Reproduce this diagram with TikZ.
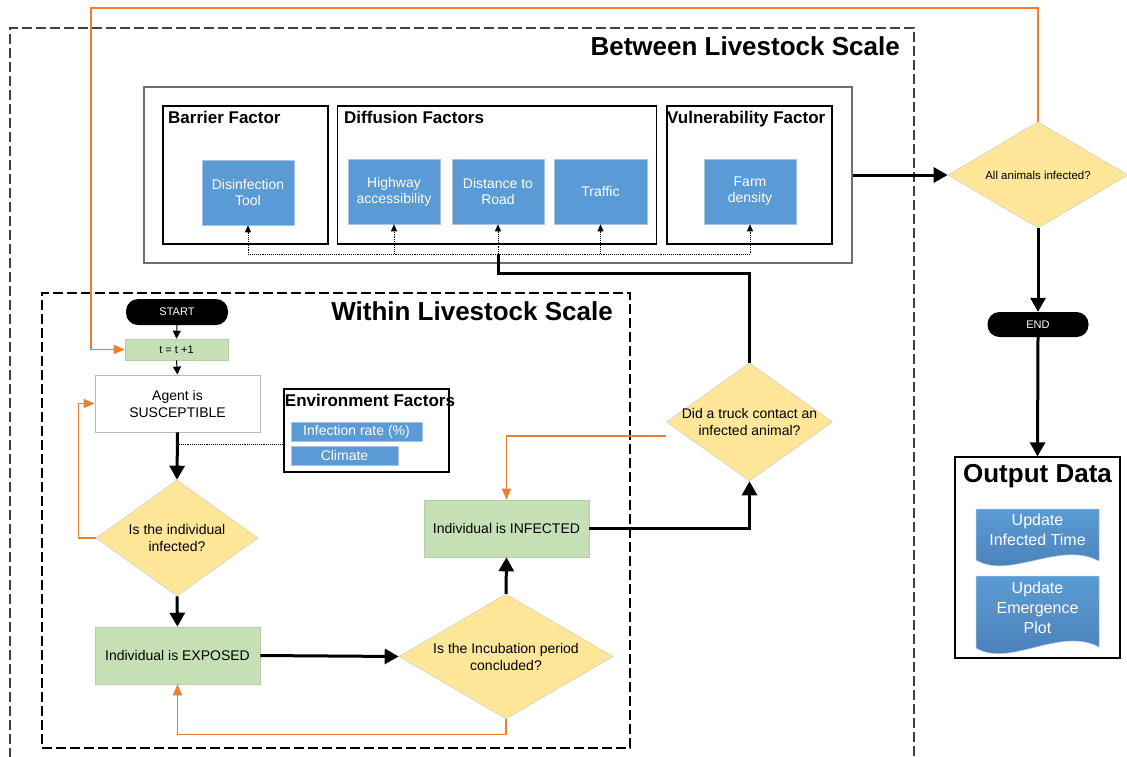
\documentclass[tikz,border=0pt]{standalone}
\usepackage{fontspec}
\setmainfont{Liberation Sans}
\usetikzlibrary{arrows.meta,shapes.geometric,backgrounds,calc}
\definecolor{cblue}{HTML}{5B9BD5}
\definecolor{cblueb}{HTML}{A9C4E0}
\definecolor{cbluedk}{HTML}{4A7DB5}
\definecolor{cgreen}{HTML}{C5E0B4}
\definecolor{cgreenb}{HTML}{B7CCA9}
\definecolor{cyellow}{HTML}{FFE699}
\definecolor{cyellowb}{HTML}{D6D0BC}
\definecolor{corange}{HTML}{ED7D31}
\definecolor{cgrayline}{HTML}{404040}
\definecolor{cfacline}{HTML}{6F6F6F}
\begin{document}
\begin{tikzpicture}[x=1pt,y=-1pt,
  bluebox/.style={fill=cblue, draw=cblueb, line width=0.6pt, text=white, font=\fontsize{14}{16}\selectfont, align=center, inner sep=0pt},
  greenbox/.style={fill=cgreen, draw=cgreenb, line width=0.6pt, font=\fontsize{14}{17}\selectfont, align=center, inner sep=0pt},
  decision/.style={diamond, fill=cyellow, draw=cyellowb, line width=0.6pt, inner sep=-12pt, font=\fontsize{14}{17}\selectfont, align=center},
  terminal/.style={fill=black, text=white, rounded corners=12pt, font=\fontsize{11}{13}\selectfont, inner sep=0pt},
  bigtitle/.style={font=\bfseries\fontsize{26}{30}\selectfont, inner sep=0pt},
  subtitle/.style={font=\bfseries\fontsize{17}{20}\selectfont, inner sep=0pt},
  groupbox/.style={draw=black, line width=1.2pt, inner sep=0pt},
  thickarrow/.style={line width=3pt, -{Triangle[width=15pt,length=14pt]}},
  thickline/.style={line width=3pt},
  thinarrow/.style={line width=1pt, -{Triangle[width=8pt,length=8pt]}},
  orangearrow/.style={draw=corange, line width=1.3pt, -{Triangle[width=9pt,length=11pt]}},
  dotarrow/.style={densely dotted, line width=0.9pt, -{Triangle[width=6pt,length=7pt]}},
  dotline/.style={densely dotted, line width=0.9pt},
  doctext/.style={text=white, font=\fontsize{16}{20}\selectfont, align=center, inner sep=0pt},
]
\useasboundingbox (0,0) rectangle (1127,756);

% containers
\node[draw=cgrayline, line width=1.2pt, dash pattern=on 10pt off 4pt, minimum width=904pt, minimum height=762pt, inner sep=0pt] (between) at (462,409) {};
\node[bigtitle, anchor=base east] (betweent) at (900,55) {Between Livestock Scale};

\node[draw=cfacline, line width=1.4pt, fill=white, minimum width=708pt, minimum height=176pt, inner sep=0pt] (fac) at (498,175) {};
\node[groupbox, minimum width=165pt, minimum height=138pt] (bar) at (245.5,175) {};
\node[groupbox, minimum width=319pt, minimum height=138pt] (dif) at (497,175) {};
\node[groupbox, minimum width=165pt, minimum height=138pt] (vul) at (749.5,175) {};
\node[subtitle, anchor=base west] (bart) at (168,123) {Barrier Factor};
\node[subtitle, anchor=base west] (dift) at (344,123) {Diffusion Factors};
\node[subtitle, anchor=base west] (vult) at (667,123) {Vulnerability Factor};

\node[bluebox, minimum width=92pt, minimum height=65pt] (dis) at (248,192.5) {Disinfection\\Tool};
\node[bluebox, minimum width=92pt, minimum height=65pt] (hwy) at (394,191.5) {Highway\\accessibility};
\node[bluebox, minimum width=92pt, minimum height=65pt] (dist) at (498,191.5) {Distance to\\Road};
\node[bluebox, minimum width=93pt, minimum height=65pt] (trf) at (600.5,191.5) {Traffic};
\node[bluebox, minimum width=92pt, minimum height=65pt] (farm) at (750,191.5) {Farm\\density};

\node[draw=black, line width=1.2pt, dash pattern=on 10pt off 4pt, minimum width=588pt, minimum height=455pt, inner sep=0pt] (within) at (336,520.5) {};
\node[bigtitle, anchor=base east] (withint) at (613,320) {Within Livestock Scale};

% within flow
\node[terminal, minimum width=102pt, minimum height=26pt] (start) at (177,312) {START};
\node[greenbox, minimum width=103pt, minimum height=21pt, font=\fontsize{11}{13}\selectfont] (tt) at (176.5,349.5) {t = t +1};
\node[draw=cfacline!50, line width=0.8pt, fill=white, minimum width=165pt, minimum height=57pt, align=center, inner sep=0pt, font=\fontsize{14}{17}\selectfont] (agent) at (177.5,403.5) {Agent is\\SUSCEPTIBLE};

\node[groupbox, fill=white, minimum width=165pt, minimum height=83pt] (env) at (366.5,430.5) {};
\node[subtitle, anchor=base] (envt) at (370,406) {Environment Factors};
\node[bluebox, minimum width=131pt, minimum height=19pt] (infr) at (356.5,431.5) {Infection rate (\%)};
\node[bluebox, minimum width=107pt, minimum height=19pt] (clim) at (344.5,455.5) {Climate};

\node[decision, minimum width=162pt, minimum height=116pt] (isinf) at (177,538) {Is the individual\\infected?};
\node[greenbox, minimum width=165pt, minimum height=57pt] (exp) at (177.5,655.5) {Individual is EXPOSED};
\node[decision, minimum width=214pt, minimum height=117pt] (inc) at (506,656.5) {Is the Incubation period\\concluded?};
\node[greenbox, minimum width=165pt, minimum height=57pt] (inf) at (506.5,528.5) {Individual is INFECTED};
\node[decision, minimum width=166pt, minimum height=118pt] (truck) at (749.5,422) {Did a truck contact an\\infected animal?};

% right column
\node[decision, minimum width=180pt, minimum height=106pt, font=\fontsize{11.5}{14}\selectfont] (all) at (1038,175) {All animals infected?};
\node[terminal, minimum width=101pt, minimum height=25pt] (endn) at (1038,324.5) {END};
\node[groupbox, minimum width=165pt, minimum height=201pt] (out) at (1037.5,557.5) {};
\node[bigtitle, anchor=base] (outt) at (1037.5,482) {Output Data};

\shade[top color=cblue, bottom color=cbluedk, draw=cblueb, line width=0.5pt]
  (976,509) -- (1099,509) -- (1099,561) .. controls (1060,540) and (1010,580) .. (976,560) -- cycle;
\shade[top color=cblue, bottom color=cbluedk, draw=cblueb, line width=0.5pt]
  (976,576) -- (1099,576) -- (1099,647) .. controls (1060,626) and (1010,668) .. (976,648) -- cycle;
\node[doctext] (doc1) at (1037.5,530) {Update\\Infected Time};
\node[doctext] (doc2) at (1037.5,608) {Update\\Emergence\\Plot};

% connectors
\coordinate (o1) at (91,8);
\draw[orangearrow] (all.north) |- (o1) |- (tt.west);
\draw[thinarrow] (start.south) -- (tt.north);
\draw[thinarrow] (tt.south) -- (agent.north);
\draw[thickarrow] (agent.south) -- (isinf.north);
\coordinate (ej) at (177,444);
\draw[dotline] (ej) -- (env.west |- ej);
\draw[orangearrow] (isinf.west) -- ++(-17,0) |- (agent.west);
\draw[thickarrow] (isinf.south) -- (exp.north);
\draw[thickarrow] (exp.east) -- (inc.west);
\draw[orangearrow] (inc.south) -- ++(0,15) -| (exp.south);
\draw[thickarrow] (inc.north) -- (inf.south);
\draw[thickarrow] (inf.east) -| (truck.south);
\draw[orangearrow] ([yshift=-14pt]truck.west) -| (inf.north);
\coordinate (J) at (498,254);
\coordinate (tj) at (498,273);
\draw[thickline] (truck.north) |- (tj) -- (J);
\draw[dotarrow] (J) -| (dis.south);
\draw[dotarrow] (J) -| (hwy.south);
\draw[dotarrow] (J) -- (dist.south);
\draw[dotarrow] (J) -| (trf.south);
\draw[dotarrow] (J) -| (farm.south);
\draw[thickarrow] (fac.east) -- (all.west);
\draw[thickarrow] (all.south) -- (endn.north);
\draw[thickarrow] (endn.south) -- (out.north);
\end{tikzpicture}
\end{document}
